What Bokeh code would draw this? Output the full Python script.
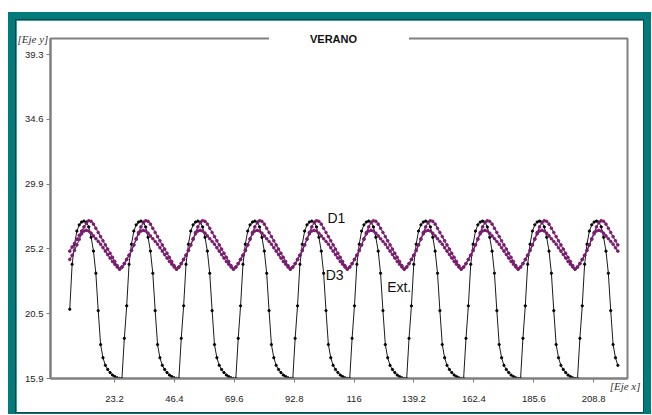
from bokeh.plotting import figure
from bokeh.models import Label, Title, FixedTicker, Range1d
from bokeh.layouts import column
from bokeh.embed import file_html
from bokeh.resources import INLINE

# ---- data ----
# one daily cycle (24 samples), starting at the last trough sample of "Ext."
ext_day = [15.9, 18.8, 21.15, 24.15, 25.6, 26.55, 27.0, 27.2, 27.27, 27.2, 26.85, 26.1,
           25.1, 23.5, 20.8, 18.35, 17.4, 16.85, 16.55, 16.33, 16.15, 16.04, 15.95, 15.9]
d1_day = [23.95, 24.2, 24.5, 24.8, 25.15, 25.55, 26.0, 26.45, 26.85, 27.15, 27.3, 27.25,
          27.05, 26.75, 26.45, 26.15, 25.85, 25.55, 25.25, 24.95, 24.65, 24.35, 24.05, 23.8]
d3_day = [23.95, 24.2, 24.5, 24.8, 25.15, 25.55, 25.95, 26.35, 26.55, 26.6, 26.55, 26.4,
          26.2, 26.0, 25.8, 25.6, 25.35, 25.1, 24.85, 24.6, 24.35, 24.15, 23.95, 23.8]
# first hours differ (start-up transient)
d1_start = [25.1, 25.4, 25.65, 25.95, 26.25, 26.55, 26.85, 27.1]
ext_start = [20.9]

n_samples = 232
first_hour = 2          # series begins at hour 2 of the daily cycle
t_start = 5.87          # x of first sample
t_step = 0.919          # x spacing between samples

xtick_values = [23.2, 46.4, 69.6, 92.8, 116.0, 139.2, 162.4, 185.6, 208.8]
xtick_labels = ["23.2", "46.4", "69.6", "92.8", "116", "139.2", "162.4", "185.6", "208.8"]
ytick_values = [15.9, 20.58, 25.26, 29.94, 34.62, 39.3]
ytick_labels = ["15.9", "20.5", "25.2", "29.9", "34.6", "39.3"]

title_text = "VERANO"
x_name = "[Eje x]"
y_name = "[Eje y]"
series_names = ["D1", "D3", "Ext."]

# ---- build series ----
def tile(day):
    return (day * 12)[first_hour:first_hour + n_samples]

ext = tile(ext_day)
d1 = tile(d1_day)
d3 = tile(d3_day)
ext[:len(ext_start)] = ext_start
d1[:len(d1_start)] = d1_start
x = [t_start + t_step * i for i in range(n_samples)]

PURPLE = "#7a1d6e"
TEAL = "#007b7b"

p = figure(frame_width=577, frame_height=340,
           min_border_left=34, min_border_right=16, min_border_top=18, min_border_bottom=34,
           x_range=Range1d(-1.59, 221.9), y_range=Range1d(15.9, 40.46),
           output_backend="svg", toolbar_location=None,
           background_fill_color="white", border_fill_color="white")
p.outline_line_color = "#808080"
p.outline_line_width = 2
p.xgrid.visible = False
p.ygrid.visible = False
p.styles = {"outline": "1px solid #164646"}

# series
p.line(x, ext, line_color="#1a1a1a", line_width=1)
p.scatter(x, ext, size=2.3, color="#000000")
p.line(x, d3, line_color=PURPLE, line_width=1.1)
p.scatter(x, d3, size=2.6, color=PURPLE)
p.line(x, d1, line_color=PURPLE, line_width=1.1)
p.scatter(x, d1, size=2.6, color=PURPLE)

# axes
for ax in (p.xaxis[0], p.yaxis[0]):
    ax.axis_line_color = "#808080"
    ax.axis_line_width = 2
    ax.major_tick_line_color = "#808080"
    ax.major_tick_in = 0
    ax.major_tick_out = 4
    ax.minor_tick_line_color = None
    ax.major_label_text_font = "Liberation Sans"
    ax.major_label_text_font_size = "9.5px"
    ax.major_label_text_color = "#222222"

p.xaxis.ticker = FixedTicker(ticks=xtick_values)
p.xaxis.major_label_overrides = dict(zip(xtick_values, xtick_labels))
p.xaxis.major_label_standoff = 13
p.yaxis.ticker = FixedTicker(ticks=ytick_values)
p.yaxis.major_label_overrides = dict(zip(ytick_values, ytick_labels))
p.yaxis.major_label_standoff = 3

# title breaking the top border (zero-height panel, centred on the frame top)
p.title.text = title_text
p.title.align = "center"
p.title.vertical_align = "middle"
p.title.standoff = -14
p.title.offset = -7
p.title.text_font = "Liberation Sans"
p.title.text_font_style = "bold"
p.title.text_font_size = "11px"
p.title.text_color = "#111111"
p.title.background_fill_color = "white"
p.title.padding = dict(left=41, right=52, top=0, bottom=0)
p.title.level = "overlay"

# axis names
p.add_layout(Title(text=y_name, align="left", vertical_align="middle", offset=-33, standoff=-14,
                   text_font="Liberation Serif", text_font_style="italic", text_font_size="11px",
                   text_color="#333333", level="overlay"), "above")
x_title = Title(text=x_name, align="right", vertical_align="top", offset=-13, standoff=-31,
                padding=dict(left=0, right=0, top=17, bottom=0),
                text_font="Liberation Serif", text_font_style="italic", text_font_size="11px",
                text_color="#333333", level="overlay")
p.below = [x_title] + list(p.below)   # zero-height panel next to the frame

# series labels (inside the frame)
label_pos = [(105.7, 27.5), (105.0, 23.41), (128.8, 22.54)]
for name, (lx, ly) in zip(series_names, label_pos):
    p.add_layout(Label(x=lx, y=ly, text=name, text_align="left", text_baseline="middle",
                       text_font="Liberation Sans", text_font_size="14px", text_color="#111111"))

layout = column(p, styles={"background-color": TEAL, "padding": "8px 8px 2px 8px",
                           "margin": "12px 0px 0px 8px"})

open("out.html", "w").write(file_html(layout, INLINE))
